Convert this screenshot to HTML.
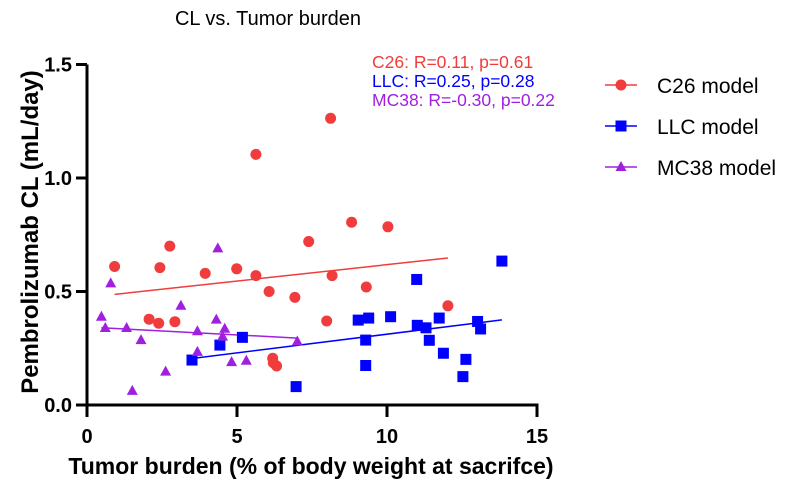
<!DOCTYPE html>
<html><head><meta charset="utf-8"><style>
body{margin:0;background:#fff;}
svg{display:block;font-family:"Liberation Sans",Arial,sans-serif;}
</style></head><body>
<svg id="chart" width="798" height="486" viewBox="0 0 798 486">
<text x="268" y="25" font-size="20" text-anchor="middle" fill="#000">CL vs. Tumor burden</text>
<g id="axes"></g>
<g id="marks"></g>
<text x="311" y="474" font-size="23" font-weight="bold" text-anchor="middle">Tumor burden (% of body weight at sacrifce)</text>
<text transform="translate(38,232) rotate(-90)" font-size="24" font-weight="bold" text-anchor="middle">Pembrolizumab CL (mL/day)</text>
<text x="372" y="68" font-size="17.5" fill="#f03c3c">C26: R=0.11, p=0.61</text>
<text x="372" y="87" font-size="17.5" fill="#0000ff">LLC: R=0.25, p=0.28</text>
<text x="372" y="106" font-size="17.5" fill="#a020e0">MC38: R=-0.30, p=0.22</text>
<g id="legend"></g>
</svg>
<script>
const c26X=[0.92,2.43,2.76,3.94,4.99,5.63,5.63,6.07,6.93,7.39,2.07,2.39,2.93,6.19,6.21,6.32,8.12,8.82,10.03,8.17,9.31,7.99,12.03];
const c26Y=[0.61,0.605,0.70,0.58,0.60,0.57,1.104,0.50,0.474,0.72,0.378,0.36,0.367,0.206,0.186,0.172,1.263,0.805,0.785,0.57,0.52,0.37,0.437];
const llcX=[3.5,4.43,5.18,6.97,9.04,9.39,10.12,10.99,11.01,11.3,11.74,11.41,9.29,9.29,11.88,12.63,12.53,13.02,13.12,13.83];
const llcY=[0.198,0.264,0.298,0.081,0.374,0.383,0.389,0.553,0.351,0.34,0.383,0.285,0.286,0.174,0.228,0.201,0.125,0.368,0.335,0.634];
const mcX=[0.79,0.48,0.61,1.32,1.8,1.51,2.62,3.13,3.68,3.68,4.31,4.36,4.59,4.52,4.82,5.31,7.01];
const mcY=[0.536,0.389,0.339,0.339,0.286,0.062,0.147,0.437,0.325,0.234,0.376,0.69,0.336,0.301,0.189,0.195,0.28];
const xTicks=[0,5,10,15];
const yTicks=[0,0.5,1.0,1.5];
const yTickLabels=["0.0","0.5","1.0","1.5"];
const seriesNames=["C26 model","LLC model","MC38 model"];

const NS="http://www.w3.org/2000/svg";
const sx=v=>87+v*30, sy=v=>405-v*227;
function mk(tag,attrs,parent){const e=document.createElementNS(NS,tag);for(const k in attrs)e.setAttribute(k,attrs[k]);parent.appendChild(e);return e;}
const axes=document.getElementById('axes'),marks=document.getElementById('marks'),legend=document.getElementById('legend');
let a=mk('line',{x1:87,y1:sy(1.5),x2:87,y2:407,stroke:'#000','stroke-width':3},axes);


a=mk('line',{x1:85.5,y1:405,x2:sx(15)+1.5,y2:405,stroke:'#000','stroke-width':3},axes);


xTicks.forEach(t=>{
  const l=mk('line',{x1:sx(t),y1:405,x2:sx(t),y2:417,stroke:'#000','stroke-width':3},axes);
  
  
  const tx=mk('text',{x:sx(t),y:443,'font-size':20,'font-weight':'bold','text-anchor':'middle'},axes);tx.textContent=t;
  
  
});
yTicks.forEach((t,i)=>{
  const l=mk('line',{x1:76,y1:sy(t),x2:87,y2:sy(t),stroke:'#000','stroke-width':3},axes);
  
  
  const tx=mk('text',{x:72,y:sy(t)+7,'font-size':20,'font-weight':'bold','text-anchor':'end'},axes);tx.textContent=yTickLabels[i];
  
  
});
function fit(X,Y){const n=X.length;let mx=0,my=0;X.forEach((x,i)=>{mx+=x;my+=Y[i];});mx/=n;my/=n;let sxy=0,sxx=0;X.forEach((x,i)=>{sxy+=(x-mx)*(Y[i]-my);sxx+=(x-mx)**2;});const b=sxy/sxx;return [b,my-b*mx];}
function marker(type,x,y,color,parent){
  let e;
  if(type==='circle')e=mk('circle',{cx:x,cy:y,r:5.5,fill:color},parent);
  else if(type==='square')e=mk('rect',{x:x-5.5,y:y-5.5,width:11,height:11,fill:color},parent);
  else e=mk('polygon',{points:`${x},${y-6} ${x-5.5},${y+4} ${x+5.5},${y+4}`,fill:color},parent);
  return e;
}
const series=[[c26X,c26Y,'#f03c3c','circle','c26'],[llcX,llcY,'#0000ff','square','llc'],[mcX,mcY,'#a020e0','triangle','mc38']];
series.forEach(([X,Y,c,t,n])=>{
  const [b,i0]=fit(X,Y);const x0=Math.min(...X),x1=Math.max(...X);
  const l=mk('line',{x1:sx(x0),y1:sy(i0+b*x0),x2:sx(x1),y2:sy(i0+b*x1),stroke:c,'stroke-width':1.5},marks);
  
  
});
series.forEach(([X,Y,c,t,n])=>{
  X.forEach((x,i)=>{const m=marker(t,sx(x),sy(Y[i]),c,marks);
    
    });
});
series.forEach(([X,Y,c,t,n],k)=>{
  const y=85+k*41;
  const g=mk('g',{},legend);
  
  
  mk('line',{x1:605,y1:y,x2:637,y2:y,stroke:c,'stroke-width':1.5},g);
  marker(t,621,y,c,g);
  const tx=mk('text',{x:657,y:y+8,'font-size':21},g);tx.textContent=seriesNames[k];
});
</script>
</body></html>
